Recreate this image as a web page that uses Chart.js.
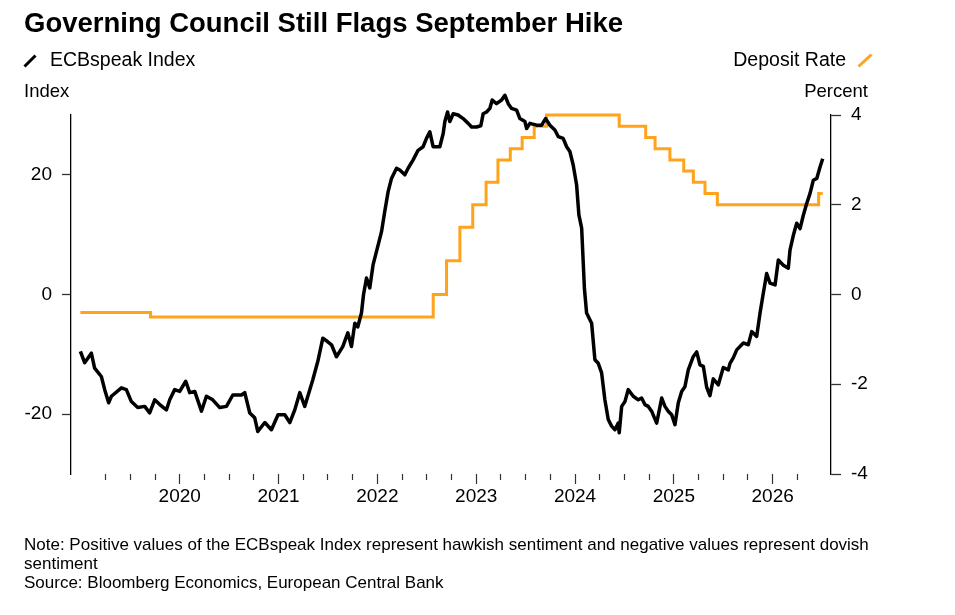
<!DOCTYPE html>
<html>
<head>
<meta charset="utf-8">
<script src="https://cdn.jsdelivr.net/npm/chart.js@4.4.1/dist/chart.umd.min.js"></script>
<style>
  html, body { margin: 0; padding: 0; background: #fff; }
  body { width: 955px; height: 615px; position: relative; overflow: hidden;
         font-family: "Liberation Sans", Arial, sans-serif; color: #000; }
  #chart { position: absolute; left: 0; top: 0; }
  .txt { position: absolute; white-space: nowrap; }
  .title { left: 24px; top: 9px; font-size: 27.5px; line-height: 27.5px; font-weight: bold; }
  .legend { top: 50px; font-size: 19.5px; line-height: 19.5px; }
  .unit { top: 82px; font-size: 18.5px; line-height: 18.5px; }
  .note { left: 24px; top: 535px; font-size: 17px; line-height: 19px; }
  svg { position: absolute; }
</style>
</head>
<body>
<canvas id="chart" width="955" height="615"></canvas>

<div class="txt title">Governing Council Still Flags September Hike</div>

<svg style="left:23px; top:54px" width="14" height="14"><line x1="1.5" y1="12.5" x2="12.5" y2="1.5" stroke="#000" stroke-width="3"/></svg>
<div class="txt legend" style="left:50px">ECBspeak Index</div>
<div class="txt legend" style="right:109px">Deposit Rate</div>
<svg style="left:857px; top:53px" width="16" height="15"><line x1="1.5" y1="13.5" x2="14.5" y2="1.5" stroke="#ffa31a" stroke-width="3"/></svg>

<div class="txt unit" style="left:24px">Index</div>
<div class="txt unit" style="right:87px">Percent</div>

<div class="txt note">Note: Positive values of the ECBspeak Index represent hawkish sentiment and negative values represent dovish<br>sentiment<br>Source: Bloomberg Economics, European Central Bank</div>

<script>
// ECBspeak Index (decimal years)
const indexDates = [
  2018.995, 2019.038, 2019.106, 2019.139, 2019.207, 2019.241, 2019.281, 2019.309, 2019.410, 2019.460, 2019.511, 2019.575, 2019.646, 2019.696, 2019.747, 2019.798, 2019.865, 2019.899, 2019.949,
  2020.000, 2020.061, 2020.101, 2020.152, 2020.220, 2020.270, 2020.334, 2020.405, 2020.473, 2020.537, 2020.625, 2020.658, 2020.709, 2020.759, 2020.790, 2020.861, 2020.928, 2020.995,
  2021.063, 2021.114, 2021.164, 2021.215, 2021.265, 2021.346, 2021.397, 2021.448, 2021.498, 2021.536, 2021.586, 2021.650, 2021.701, 2021.738, 2021.772, 2021.802, 2021.839, 2021.860, 2021.890, 2021.923, 2021.957,
  2022.008, 2022.042, 2022.075, 2022.109, 2022.143, 2022.194, 2022.227, 2022.278, 2022.311, 2022.362, 2022.412, 2022.463, 2022.497, 2022.531, 2022.564, 2022.632, 2022.666, 2022.683, 2022.710, 2022.733, 2022.767, 2022.817, 2022.868, 2022.919, 2022.953,
  2023.004, 2023.047, 2023.070, 2023.105, 2023.138, 2023.162, 2023.206, 2023.257, 2023.290, 2023.324, 2023.358, 2023.409, 2023.442, 2023.493, 2023.510, 2023.543, 2023.611, 2023.662, 2023.702, 2023.746, 2023.796, 2023.830, 2023.880, 2023.915, 2023.948, 2023.982,
  2024.016, 2024.039, 2024.067, 2024.095, 2024.117, 2024.168, 2024.201, 2024.235, 2024.269, 2024.302, 2024.336, 2024.370, 2024.404, 2024.437, 2024.447, 2024.472, 2024.505, 2024.538, 2024.589, 2024.640, 2024.674, 2024.707, 2024.741, 2024.775, 2024.826, 2024.877, 2024.910, 2024.943, 2024.978,
  2025.011, 2025.045, 2025.079, 2025.112, 2025.146, 2025.196, 2025.231, 2025.264, 2025.298, 2025.332, 2025.365, 2025.399, 2025.450, 2025.500, 2025.551, 2025.568, 2025.601, 2025.636, 2025.703, 2025.753, 2025.788, 2025.838, 2025.872, 2025.905, 2025.939, 2025.973,
  2026.024, 2026.057, 2026.108, 2026.158, 2026.175, 2026.209, 2026.243, 2026.277, 2026.310, 2026.344, 2026.378, 2026.411, 2026.446, 2026.479, 2026.506
];
const indexValues = [
  -9.5, -11.4, -9.8, -12.3, -13.7, -15.9, -18.1, -17.0, -15.6, -15.9, -17.9, -18.9, -18.7, -19.8, -17.6, -18.4, -19.3, -17.6, -15.9,
  -16.2, -14.5, -16.4, -16.2, -19.5, -17.0, -17.6, -18.9, -18.7, -16.8, -16.8, -16.4, -19.8, -20.6, -22.9, -21.4, -22.6, -20.1,
  -20.1, -21.4, -19.3, -16.4, -18.7, -14.3, -11.2, -7.3, -7.9, -8.4, -10.4, -8.7, -6.4, -8.7, -4.8, -5.4, -3.1, 0.0, 2.75, 1.1, 5.0,
  8.3, 10.5, 13.9, 17.2, 19.4, 21.1, 20.8, 20.0, 21.1, 22.5, 24.1, 24.7, 26.1, 27.2, 24.7, 24.7, 26.9, 28.9, 30.5, 28.9, 30.2, 30.0, 29.4, 28.6, 28.0,
  28.0, 28.2, 30.2, 30.5, 31.1, 32.5, 31.9, 32.5, 33.3, 31.9, 31.1, 30.8, 29.4, 28.9, 27.75, 28.6, 28.3, 28.3, 29.4, 28.3, 27.5, 26.4, 26.1, 24.7, 23.9, 21.6,
  18.3, 13.3, 11.1, 1.0, -3.1, -4.8, -10.9, -11.5, -13.1, -17.6, -20.9, -22.0, -22.6, -21.5, -23.1, -18.7, -17.9, -15.9, -17.0, -17.6, -17.3, -18.4, -18.7, -19.5, -21.5, -17.3, -18.7, -19.5, -20.1,
  -21.75, -18.1, -16.2, -15.4, -12.6, -10.4, -9.6, -11.75, -12.0, -15.5, -16.9, -14.1, -15.1, -12.2, -12.6, -11.5, -10.6, -9.25, -8.1, -8.4, -6.2, -7.0, -3.1, 0.2, 3.5, 1.9,
  1.6, 5.75, 4.9, 4.4, 7.4, 9.9, 11.9, 11.0, 13.25, 15.2, 16.9, 19.1, 19.4, 21.3, 22.7
];

// Deposit rate: dates of each change and the new level (percent)
const rateDates = [2018.995, 2019.705, 2022.565, 2022.700, 2022.835, 2022.965, 2023.100, 2023.220, 2023.345, 2023.465, 2023.587, 2023.712,
                   2024.447, 2024.715, 2024.810, 2024.960, 2025.100, 2025.197, 2025.315, 2025.440, 2026.465, 2026.506];
const rateValues = [-0.4, -0.5, 0, 0.75, 1.5, 2.0, 2.5, 3.0, 3.25, 3.5, 3.75, 4.0,
                    3.75, 3.5, 3.25, 3.0, 2.75, 2.5, 2.25, 2.0, 2.25, 2.25];

// axis ticks
const yearTicks = [2020, 2021, 2022, 2023, 2024, 2025, 2026];
const quarterTicks = [2019.25, 2019.5, 2019.75, 2020, 2020.25, 2020.5, 2020.75, 2021, 2021.25, 2021.5, 2021.75,
                      2022, 2022.25, 2022.5, 2022.75, 2023, 2023.25, 2023.5, 2023.75, 2024, 2024.25, 2024.5, 2024.75,
                      2025, 2025.25, 2025.5, 2025.75, 2026, 2026.25];
const leftTicks = [-20, 0, 20];
const rightTicks = [-4, -2, 0, 2, 4];

const font = { family: '"Liberation Sans", Arial, sans-serif', size: 19 };
const isYear = (v) => yearTicks.includes(v);

const ctx = document.getElementById('chart').getContext('2d');
new Chart(ctx, {
  type: 'line',
  data: {
    datasets: [
      {
        label: 'ECBspeak Index',
        data: indexDates.map((x, i) => ({ x: x, y: indexValues[i] })),
        yAxisID: 'yLeft',
        borderColor: '#000',
        borderWidth: 3.5,
        borderJoinStyle: 'round',
        pointRadius: 0,
        tension: 0,
        clip: false,
      },
      {
        label: 'Deposit Rate',
        data: rateDates.map((x, i) => ({ x: x, y: rateValues[i] })),
        yAxisID: 'yRight',
        borderColor: '#ffa31a',
        borderWidth: 3,
        borderJoinStyle: 'miter',
        pointRadius: 0,
        stepped: true,
        clip: false,
      },
    ],
  },
  options: {
    responsive: false,
    animation: false,
    layout: { padding: { top: 115, left: 0, right: 0, bottom: 0 } },
    plugins: {
      legend: { display: false },
      tooltip: { enabled: false },
    },
    scales: {
      x: {
        type: 'linear',
        min: 2018.9,
        max: 2026.59,
        border: { display: false },
        grid: {
          drawOnChartArea: false,
          tickLength: 10,
          tickColor: '#333',
          tickWidth: 1.2,
          tickBorderDash: (c) => (c.tick && isYear(c.tick.value) ? [] : [6, 20]),
        },
        ticks: {
          autoSkip: false,
          maxRotation: 0,
          padding: 1,
          color: '#000',
          font: font,
          callback: (v) => (isYear(v) ? String(v) : ''),
        },
        afterBuildTicks: (s) => { s.ticks = quarterTicks.map((v) => ({ value: v })); },
        afterFit: (s) => { s.height = 141; },
      },
      yLeft: {
        position: 'left',
        min: -30,
        max: 30,
        border: { display: true, color: '#000', width: 1.3 },
        grid: { drawOnChartArea: false, tickLength: 9, tickColor: '#333', tickWidth: 1.3 },
        ticks: { padding: 10, color: '#000', font: font },
        afterBuildTicks: (s) => { s.ticks = leftTicks.map((v) => ({ value: v })); },
        afterFit: (s) => { s.width = 71; },
      },
      yRight: {
        position: 'right',
        min: -4,
        max: 4,
        border: { display: true, color: '#000', width: 1.3 },
        grid: { drawOnChartArea: false, tickLength: 10, tickColor: '#333', tickWidth: 1.3 },
        ticks: { padding: 10, color: '#000', font: font },
        afterBuildTicks: (s) => { s.ticks = rightTicks.map((v) => ({ value: v })); },
        afterFit: (s) => { s.width = 124; },
      },
    },
  },
});
</script>
</body>
</html>
